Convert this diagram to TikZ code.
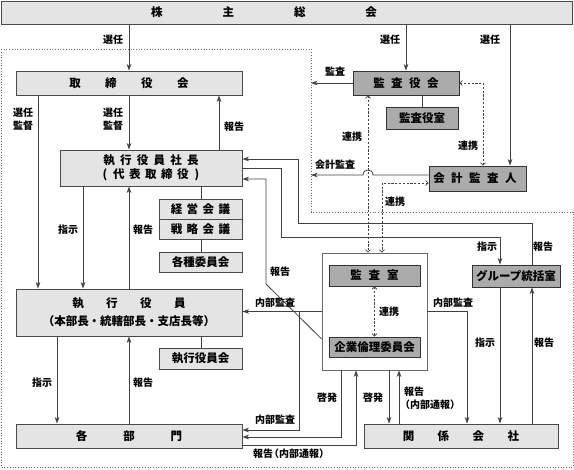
\documentclass[tikz,border=0pt]{standalone}
\usepackage{fontspec}
\setmainfont{Noto Sans CJK JP}
\usetikzlibrary{arrows.meta}
\definecolor{lightfill}{HTML}{E4E4E4}
\definecolor{darkfill}{HTML}{ABABAB}
\definecolor{bordercol}{HTML}{4A4A4A}
\definecolor{linecol}{HTML}{404040}
\definecolor{dotcol}{HTML}{6A6A6A}
\newcommand\hsp[1]{\hspace{#1pt}}
\newcommand\boxfont{\fontsize{11.5pt}{14pt}\selectfont\bfseries}
\newcommand\lblfont{\fontsize{10pt}{12pt}\selectfont\bfseries}
\tikzset{
  box/.style={draw=bordercol, line width=0.8pt, fill=lightfill, inner sep=0pt, font=\boxfont, align=center},
  dbox/.style={box, fill=darkfill, draw=black!80},
  cont/.style={draw=dotcol, line width=0.7pt, fill=white, inner sep=0pt},
  ln/.style={draw=linecol, line width=0.8pt},
  arr/.style={ln, -{Stealth[length=6.5pt,width=4.5pt,inset=1.8pt]}},
  darr/.style={draw=linecol, line width=0.7pt, dash pattern=on 2.2pt off 1.6pt,
     {Straight Barb[length=2.5pt,width=5pt]}-{Straight Barb[length=2.5pt,width=5pt]}},
  lbl/.style={font=\lblfont, inner sep=0pt},
  lblr/.style={lbl, anchor=west},
}
\begin{document}
\begin{tikzpicture}[x=1pt,y=-1pt]
\useasboundingbox (0,0) rectangle (574,470);
% dotted company border
\draw[dotcol, line width=0.7pt, dotted] (1,49) -- (311,49) -- (311,212) -- (573,212) -- (573,467) -- (1,467) -- cycle;
\coordinate (bd1) at (311,83);
\coordinate (bd2) at (311,175);

% boxes
\node[box, minimum width=571pt, minimum height=23pt] (sokai) at (286.5,12.5)
  {株\hsp{60}主\hsp{60}総\hsp{60}会\hspace{45pt}};
\node[box, minimum width=226pt, minimum height=24pt] (torishimari) at (129,83)
  {取\hsp{24.5}締\hsp{24.5}役\hsp{24.5}会};
\node[dbox, minimum width=106pt, minimum height=24pt] (kansayakukai) at (406,83)
  {監\hsp{6.5}査\hsp{6.5}役\hsp{6.5}会};
\node[dbox, minimum width=72pt, minimum height=22pt] (kansayakushitsu) at (422,118) {監査役室};
\node[dbox, minimum width=97pt, minimum height=25pt] (kaikei) at (477.5,178.5)
  {会\hsp{6.5}計\hsp{6.5}監\hsp{6.5}査\hsp{6.5}人\hspace{5pt}};
\node[box, minimum width=182pt, minimum height=36pt] (shacho) at (151,168)
  {執\hsp{5.3}行\hsp{5.3}役\hsp{5.3}員\hsp{5.3}社\hsp{5.3}長\\[0.5pt]
   (\hsp{6}代\hsp{4.5}表\hsp{4.5}取\hsp{4.5}締\hsp{4.5}役\hsp{6})};
\node[box, minimum width=83pt, minimum height=20pt] (keiei) at (200.5,209)
  {経\hsp{4.5}営\hsp{4.5}会\hsp{4.5}議};
\node[box, minimum width=83pt, minimum height=20pt] (senryaku) at (200.5,229)
  {戦\hsp{4.5}略\hsp{4.5}会\hsp{4.5}議};
\node[box, minimum width=83pt, minimum height=20pt] (kakushu) at (200.5,262) {各種委員会};
\node[box, minimum width=226pt, minimum height=47pt] (shikko) at (129,312.5)
  {執\hsp{22.5}行\hsp{22.5}役\hsp{22.5}員\\[4pt]
   （本部長・統轄部長・支店長等）};
\node[box, minimum width=83pt, minimum height=21pt] (shikkokai) at (200.5,358.5) {執行役員会};
\node[box, minimum width=226pt, minimum height=24pt] (kakubumon) at (129,436)
  {各\hsp{36}部\hsp{36}門};
\node[cont, minimum width=105pt, minimum height=117pt] (container) at (374.5,311.5) {};
\node[dbox, minimum width=91pt, minimum height=21pt] (kansashitsu) at (374.5,275.5)
  {監\hsp{7}査\hsp{7}室};
\node[dbox, minimum width=91pt, minimum height=20pt] (kigyorinri) at (374.5,347) {企業倫理委員会};
\node[dbox, minimum width=88pt, minimum height=22pt] (group) at (516,276) {グループ統括室};
\node[box, minimum width=194pt, minimum height=24pt] (kankei) at (461,436)
  {関\hsp{23.5}係\hsp{23.5}会\hsp{23.5}社};

% plain joins
\draw[ln] (kansayakushitsu.north |- kansayakukai.south) -- (kansayakushitsu.north);
\draw[ln] (201,0 |- shacho.south) -- (201,0 |- keiei.north);
\draw[ln] (201,0 |- senryaku.south) -- (201,0 |- kakushu.north);
\draw[ln] (201,0 |- shikko.south) -- (201,0 |- shikkokai.north);

% arrows from shareholders
\draw[arr] (torishimari.north |- sokai.south) -- (torishimari.north);
\node[lbl] (l1) at (113,40) {選任};
\draw[arr] (kansayakukai.north |- sokai.south) -- (kansayakukai.north);
\node[lbl] (l2) at (390,40) {選任};
\draw[arr] (510,0 |- sokai.south) -- (510,0 |- kaikei.north);
\node[lbl] (l3) at (490,40) {選任};

% board
\draw[arr] (38,0 |- torishimari.south) -- (38,0 |- shikko.north);
\node[lbl, align=center] (l4) at (23,119) {選任\\[1pt]監督};
\draw[arr] (129,0 |- torishimari.south) -- (129,0 |- shacho.north);
\node[lbl, align=center] (l5) at (113,119) {選任\\[1pt]監督};
\draw[arr] (219,0 |- shacho.north) -- (219,0 |- torishimari.south);
\node[lbl] (l6) at (234,127) {報告};

% audit board
\draw[arr] (kansayakukai.west) -- (bd1);
\node[lbl] (l7) at (335,72) {監査};
\draw[darr] (kansayakukai.east) -- (483,83) -- (483,0 |- kaikei.north);
\node[lbl] (l8) at (468,146) {連携};
\draw[darr] (368,0 |- kansayakukai.south) -- (368,0 |- container.north);
\node[lbl] (l9) at (352,137) {連携};
\draw[darr] ([yshift=-4.5pt]kaikei.west) -- (382,183) -- (382,0 |- container.north);
\node[lbl] (l10) at (395,202) {連携};
\draw[arr] ([yshift=3.5pt]kaikei.west) -- (373,175) .. controls (373,168.3) and (363,168.3) .. (363,175) -- (bd2);
\node[lbl] (l11) at (335,165) {会計監査};

% president
\draw[arr] (83,0 |- shacho.south) -- (83,0 |- shikko.north);
\node[lbl] (l12) at (68,230) {指示};
\draw[arr] (129,0 |- shikko.north) -- (129,0 |- shacho.south);
\node[lbl] (l13) at (143,230) {報告};
\draw[arr] (57,0 |- shikko.south) -- (57,0 |- kakubumon.north);
\node[lbl] (l14) at (42,383) {指示};
\draw[arr] (kakubumon.north) -- (shikko.south);
\node[lbl] (l15) at (143,383) {報告};

% group office
\draw[arr] ([xshift=16pt]group.north) -- (532,223) -- (298,223) -- (298,159) -- ([yshift=9pt]shacho.east);
\node[lbl] (l16) at (543,247) {報告};
\draw[arr] (shacho.east) -- (281,168) -- (281,237) -- (500,237) -- ([xshift=-16pt]group.north);
\node[lbl] (l17) at (487,247) {指示};
\draw[arr] ([yshift=-27.5pt]container.west) -- (266,284) -- (266,179) -- ([yshift=-11pt]shacho.east);
\node[lbl] (l18) at (280,272) {報告};

% internal audit
\draw[arr] (container.west) -- (container.west -| shikko.east);
\node[lbl] (l19) at (275,303) {内部監査};
\draw[arr] (299,0 |- container.west) -- (299,430) -- ([yshift=6pt]kakubumon.east);
\node[lbl] (l20) at (275,420) {内部監査};
\draw[arr] (341,0 |- container.south) -- (341,437) -- ([yshift=-1pt]kakubumon.east);
\node[lbl] (l21) at (327,398) {啓発};
\draw[arr] ([yshift=-9pt]kakubumon.east) -- (356,445) -- (356,0 |- container.south);
\node[lblr] (l22) at (253,454) {報告\hspace{-4pt}（内部通報）};
\draw[darr] (kansashitsu.south) -- (kigyorinri.north);
\node[lbl] (l23) at (389,312) {連携};

% affiliates
\draw[arr] (389,0 |- container.south) -- (389,0 |- kankei.north);
\node[lbl] (l24) at (373,398) {啓発};
\draw[arr] (399,0 |- kankei.north) -- (399,0 |- container.south);
\node[lblr] (l25) at (404,392) {報告};
\node[lblr] (l26) at (400,405) {（内部通報）};
\draw[arr] (container.east) -- (467,311.5) -- (467,0 |- kankei.north);
\node[lbl] (l27) at (453,303) {内部監査};
\draw[arr] (500,0 |- group.south) -- (500,0 |- kankei.north);
\node[lbl] (l28) at (485,343) {指示};
\draw[arr] (532,0 |- kankei.north) -- (532,0 |- group.south);
\node[lbl] (l29) at (544,343) {報告};
\end{tikzpicture}
\end{document}
